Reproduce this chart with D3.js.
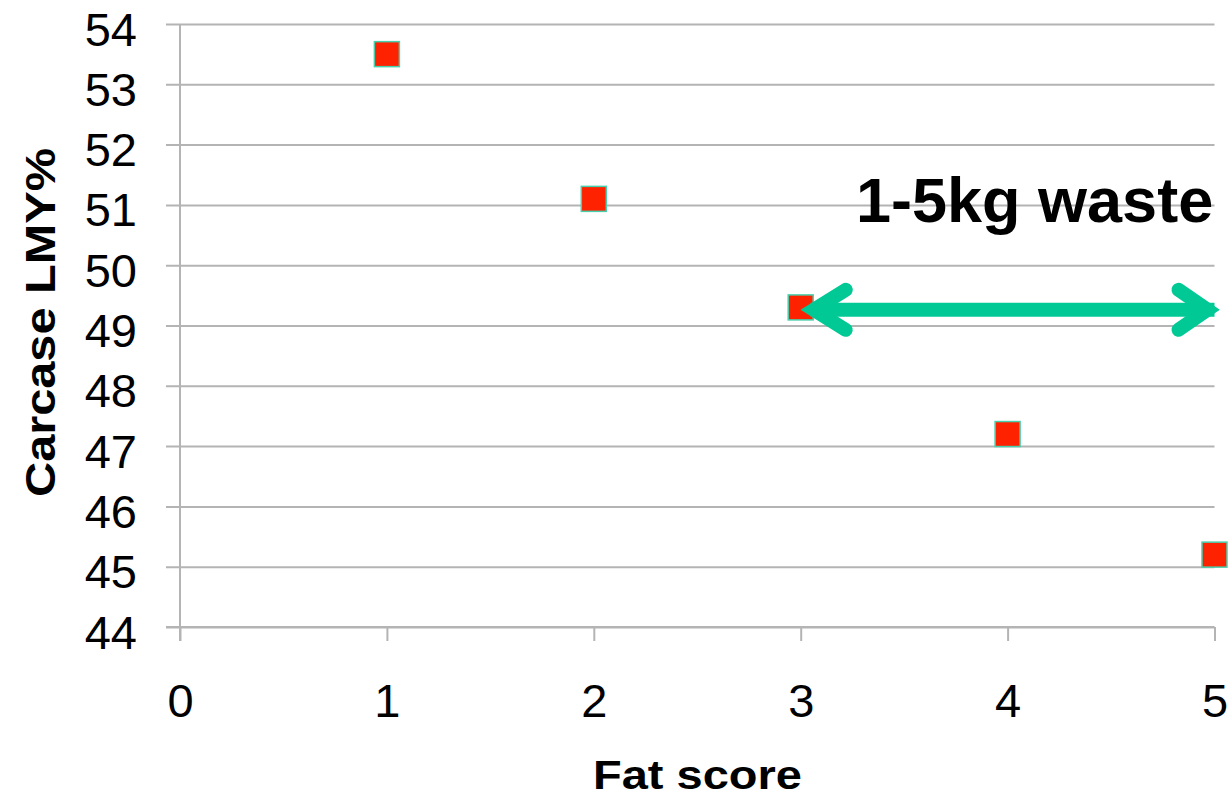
<!DOCTYPE html>
<html>
<head>
<meta charset="utf-8">
<script src="https://cdn.jsdelivr.net/npm/d3@7"></script>
<style>
  html, body { margin: 0; padding: 0; background: #fff; }
  svg { display: block; font-family: "Liberation Sans", Arial, sans-serif; }
</style>
</head>
<body>
<svg id="chart" width="1231" height="799"></svg>
<script>
// Carcase lean meat yield by fat score
const fatScores = [1, 2, 3, 4, 5];
const lmyValues = [53.5, 51.1, 49.3, 47.2, 45.2];
const xTickValues = [0, 1, 2, 3, 4, 5];
const yTickValues = [44, 45, 46, 47, 48, 49, 50, 51, 52, 53, 54];

// annotation: waste range arrow
const wasteLabel = "1-5kg waste";
const arrowFrom = 3, arrowTo = 5, arrowLevel = 49.26;

const svg = d3.select("#chart");
const plotLeft = 180, plotRight = 1214.5, plotTop = 24, plotBottom = 627;
const gridColor = "#b4b4b4";

const x = d3.scaleLinear().domain([0, 5]).range([plotLeft, plotRight]);
const y = d3.scaleLinear().domain([44, 54]).range([plotBottom, plotTop]);

// horizontal gridlines with small outer ticks, plus y labels
const yAxis = d3.axisLeft(y).tickValues(yTickValues).tickFormat(d3.format("d"));
const gy = svg.append("g").attr("transform", `translate(${plotLeft},0)`).call(yAxis);
gy.select(".domain").remove();
gy.selectAll(".tick line")
  .attr("x1", -14).attr("x2", plotRight - plotLeft)
  .attr("stroke", gridColor).attr("stroke-width", 2);
gy.selectAll(".tick text")
  .attr("x", -43).attr("dy", null).attr("y", 21)
  .attr("fill", "#000").attr("font-size", 47)
  .attr("font-family", "'Liberation Sans', Arial, sans-serif");

// vertical axis line
svg.append("line")
  .attr("x1", plotLeft).attr("x2", plotLeft)
  .attr("y1", plotTop).attr("y2", plotBottom + 14)
  .attr("stroke", gridColor).attr("stroke-width", 2);

// x axis
const xAxis = d3.axisBottom(x).tickValues(xTickValues).tickFormat(d3.format("d")).tickSize(14).tickSizeOuter(0);
const gx = svg.append("g").attr("transform", `translate(0,${plotBottom})`).call(xAxis);
gx.select(".domain").remove();
gx.selectAll(".tick line").attr("stroke", gridColor).attr("stroke-width", 2);
gx.selectAll(".tick text")
  .attr("y", 90).attr("dy", null)
  .attr("fill", "#000").attr("font-size", 47)
  .attr("font-family", "'Liberation Sans', Arial, sans-serif");
svg.append("line")
  .attr("x1", plotLeft - 14).attr("x2", plotRight)
  .attr("y1", plotBottom).attr("y2", plotBottom)
  .attr("stroke", gridColor).attr("stroke-width", 2);

// axis titles
svg.append("text")
  .attr("x", 697.5).attr("y", 789)
  .attr("text-anchor", "middle")
  .attr("font-size", 40).attr("font-weight", "bold")
  .attr("textLength", 209).attr("lengthAdjust", "spacingAndGlyphs")
  .text("Fat score");

svg.append("text")
  .attr("transform", "translate(55,322.5) rotate(-90)")
  .attr("text-anchor", "middle")
  .attr("font-size", 42).attr("font-weight", "bold")
  .attr("textLength", 349).attr("lengthAdjust", "spacingAndGlyphs")
  .text("Carcase LMY%");

// square markers
const size = 25;
svg.append("g").selectAll("rect")
  .data(fatScores.map((f, i) => ({ f, v: lmyValues[i] })))
  .join("rect")
  .attr("x", d => x(d.f) - size / 2)
  .attr("y", d => y(d.v) - size / 2)
  .attr("width", size).attr("height", size)
  .attr("fill", "#ff2200")
  .attr("stroke", "#48d0ad").attr("stroke-width", 1.5);

// double-headed arrow
const arrowColor = "#00c995";
const ay = y(arrowLevel);
const x0 = x(arrowFrom), x1 = x(arrowTo);
const aG = svg.append("g")
  .attr("fill", "none").attr("stroke", arrowColor).attr("stroke-width", 14);
aG.append("line")
  .attr("x1", x0 + 10).attr("x2", x1)
  .attr("y1", ay).attr("y2", ay);
aG.append("path")
  .attr("stroke-linecap", "round").attr("stroke-linejoin", "miter")
  .attr("d", `M${x0 + 45},${ay - 20}L${x0 + 13},${ay}L${x0 + 45},${ay + 20}`);
aG.append("path")
  .attr("stroke-linecap", "round").attr("stroke-linejoin", "miter")
  .attr("d", `M${x1 - 36},${ay - 20}L${x1 - 7},${ay}L${x1 - 36},${ay + 20}`);

// annotation label
svg.append("text")
  .attr("x", 856).attr("y", 222)
  .attr("font-size", 63).attr("font-weight", "bold")
  .text(wasteLabel);
</script>
</body>
</html>
